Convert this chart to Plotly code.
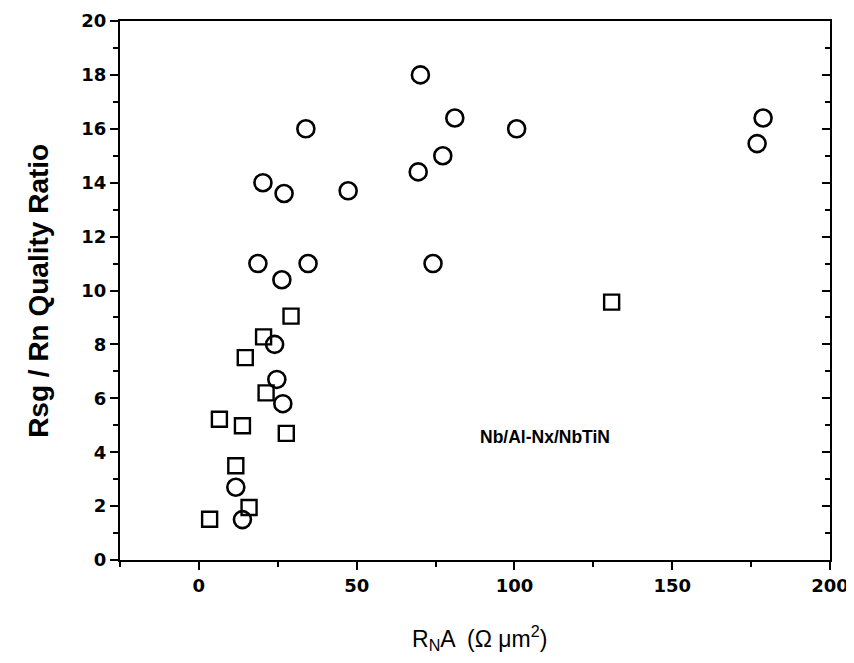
# Rsg/Rn quality ratio vs RnA for Nb/Al-Nx/NbTiN junctions
import plotly.graph_objects as go

# circles
circle_x = [70.2, 81.1, 100.7, 33.9, 77.3, 69.5, 47.3, 27.0, 20.3, 34.6,
            74.2, 26.3, 18.7, 178.8, 176.9, 24.0, 24.7, 26.6, 11.7, 13.8]
circle_y = [18.0, 16.4, 16.0, 16.0, 15.0, 14.4, 13.7, 13.6, 14.0, 11.0,
            11.0, 10.4, 11.0, 16.4, 15.45, 8.0, 6.7, 5.8, 2.7, 1.5]

# squares
square_x = [29.2, 20.5, 14.7, 21.3, 6.5, 13.8, 27.7, 11.7, 15.9, 3.4, 130.8]
square_y = [9.05, 8.28, 7.51, 6.2, 5.22, 4.98, 4.7, 3.5, 1.95, 1.51, 9.57]

x_ticks = [0, 50, 100, 150, 200]
y_ticks = [0, 2, 4, 6, 8, 10, 12, 14, 16, 18, 20]

font_family = "Arial, Liberation Sans, sans-serif"
tick_family = "DejaVu Sans, Arial, sans-serif"

fig = go.Figure()
fig.add_trace(go.Scatter(
    x=circle_x, y=circle_y, mode="markers",
    marker=dict(symbol="circle-open", size=17, color="black",
                line=dict(width=2.6, color="black")),
    showlegend=False,
))
fig.add_trace(go.Scatter(
    x=square_x, y=square_y, mode="markers",
    marker=dict(symbol="square-open", size=15, color="black",
                line=dict(width=2.4, color="black")),
    showlegend=False,
))

axis_common = dict(showgrid=False, zeroline=False, showline=True,
                   linecolor="black", linewidth=2, automargin=False)

fig.update_xaxes(
    range=[-25, 200], tickvals=x_ticks, ticks="outside", ticklen=8,
    tickwidth=2, tickcolor="black", ticklabeloverflow="allow",
    minor=dict(dtick=25, tick0=-25, ticks="outside", ticklen=5,
               tickwidth=2, tickcolor="black"),
    tickfont=dict(family=tick_family, size=18, color="black", weight="bold"),
    mirror=True, **axis_common,
)
fig.update_yaxes(
    range=[0, 20], tickvals=y_ticks, ticks="outside", ticklen=8,
    tickwidth=2, tickcolor="black", ticklabeloverflow="allow",
    minor=dict(dtick=1, ticks="outside", ticklen=5,
               tickwidth=2, tickcolor="black"),
    tickfont=dict(family=tick_family, size=18, color="black", weight="bold"),
    mirror=True, **axis_common,
)

# right-hand axis with inward ticks
fig.update_layout(yaxis2=dict(
    overlaying="y", side="right", range=[0, 20], tickvals=y_ticks,
    ticks="inside", ticklen=8, tickwidth=2, tickcolor="black",
    minor=dict(dtick=1, ticks="inside", ticklen=5, tickwidth=2,
               tickcolor="black"),
    showticklabels=False, showgrid=False, zeroline=False, automargin=False,
))
fig.add_trace(go.Scatter(x=[None], y=[None], yaxis="y2", showlegend=False,
                         hoverinfo="skip"))

fig.add_annotation(
    x=88.6, y=4.56, xref="x", yref="y", xanchor="left", yanchor="middle",
    text="Nb/Al-Nx/NbTiN", showarrow=False,
    font=dict(family=font_family, size=17.5, color="black", weight="bold"),
)
fig.add_annotation(
    x=0.507, y=-0.145, xref="paper", yref="paper", xanchor="center",
    yanchor="middle", showarrow=False,
    text="R<sub>N</sub>A  (Ω μm<sup>2</sup>)",
    font=dict(family=font_family, size=23, color="black"),
)
fig.add_annotation(
    x=-0.115, y=0.5, xref="paper", yref="paper", xanchor="center",
    yanchor="middle", showarrow=False, textangle=-90,
    text="Rsg / Rn Quality Ratio",
    font=dict(family=font_family, size=28, color="black", weight="bold"),
)

# the page body adds an 8 px offset; margins are shifted to compensate
fig.update_layout(
    width=854, height=663,
    plot_bgcolor="white", paper_bgcolor="white",
    margin=dict(l=112, r=32, t=13, b=111),
)

fig.write_html("out.html")
